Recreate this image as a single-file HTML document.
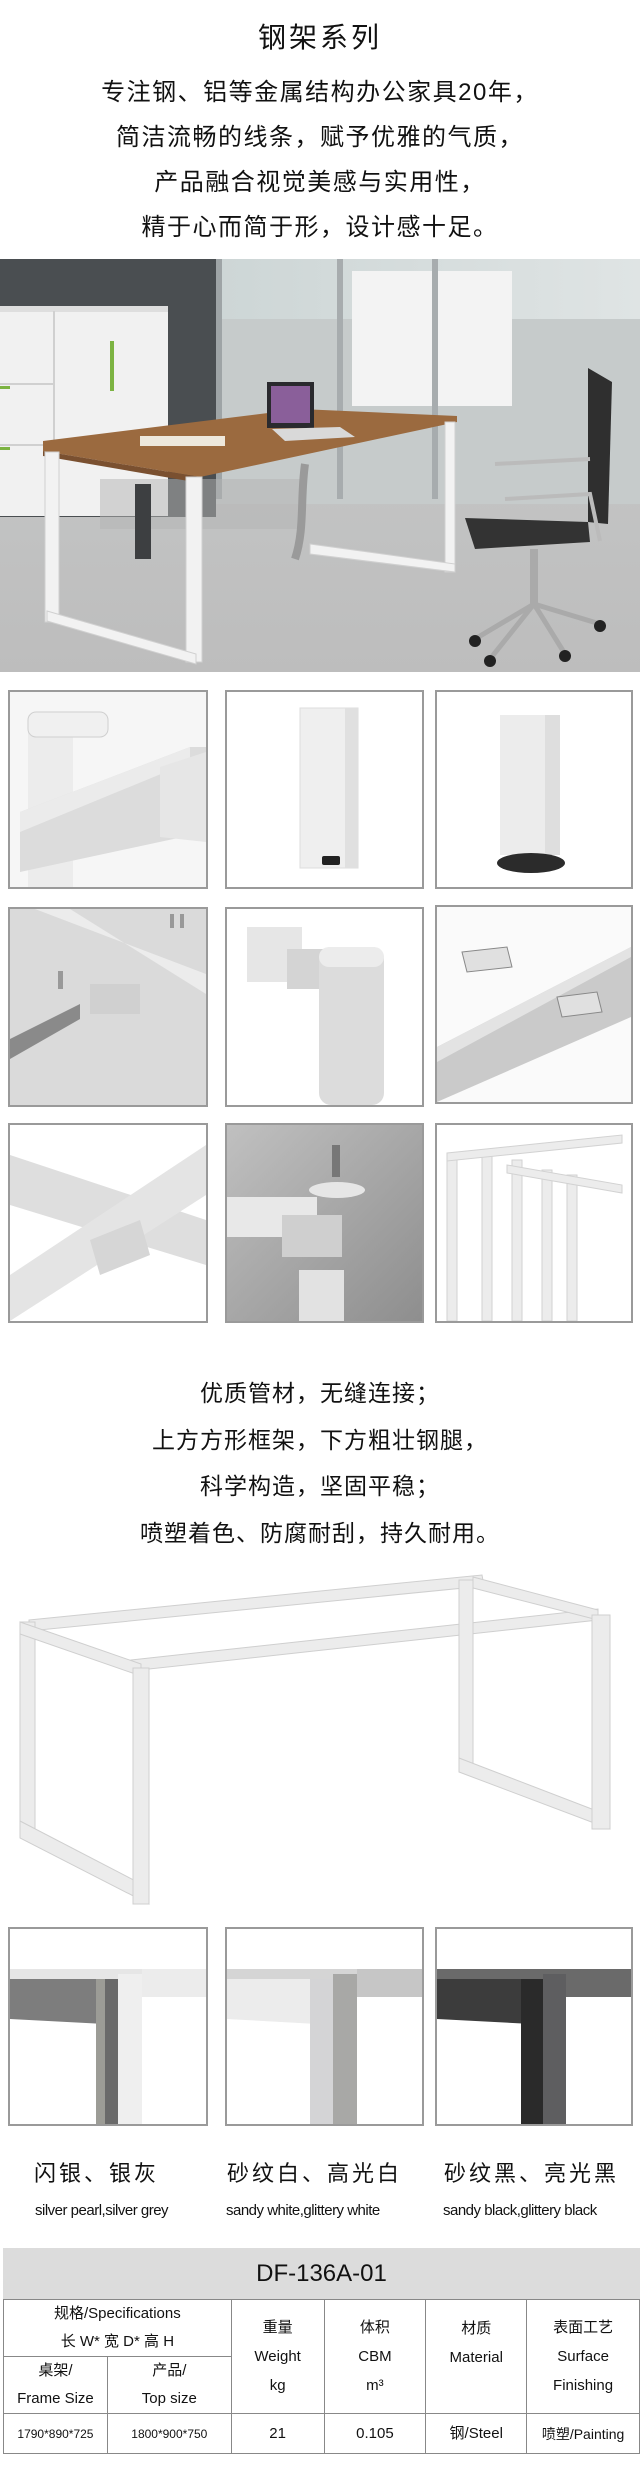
<!DOCTYPE html>
<html><head><meta charset="utf-8">
<style>
*{margin:0;padding:0;box-sizing:border-box}
body{width:640px;height:2468px;background:#fff;position:relative;overflow:hidden;font-family:"Liberation Sans","Noto Sans CJK SC",sans-serif;color:#111}
.t{position:absolute;left:0;width:640px;text-align:center;white-space:nowrap}
.box{position:absolute;border:2px solid #9a9a9a;overflow:hidden;background:#fff}
.box svg{display:block}
table{border-collapse:collapse}
</style></head><body>

<div class="t" style="top:16px;font-size:28px;letter-spacing:3px">钢架系列</div>
<div class="t" style="top:70px;font-size:24px;letter-spacing:1.5px;line-height:45px">专注钢、铝等金属结构办公家具20年，<br>简洁流畅的线条，赋予优雅的气质，<br>产品融合视觉美感与实用性，<br>精于心而简于形，设计感十足。</div>

<!-- photo -->
<svg style="position:absolute;left:0;top:259px" width="640" height="413" viewBox="0 0 640 413">
<defs><linearGradient id="fl" x1="0" y1="0" x2="0" y2="1"><stop offset="0" stop-color="#c9cbcb"/><stop offset="1" stop-color="#bdbdbd"/></linearGradient>
<linearGradient id="gl" x1="0" y1="0" x2="1" y2="0"><stop offset="0" stop-color="#cdd6d6"/><stop offset="1" stop-color="#dfe4e4"/></linearGradient></defs>
<rect width="640" height="413" fill="url(#fl)"/>
<rect x="0" y="0" width="216" height="258" fill="#4a4e51"/>
<rect x="216" y="0" width="424" height="240" fill="url(#gl)"/>
<rect x="216" y="60" width="424" height="185" fill="#c6cbcb"/>
<rect x="352" y="12" width="160" height="135" fill="#f3f3f3"/>
<rect x="337" y="0" width="6" height="240" fill="#a7acae"/>
<rect x="432" y="0" width="6" height="240" fill="#a7acae"/>
<rect x="216" y="0" width="6" height="240" fill="#9ea4a6"/>
<rect x="0" y="52" width="168" height="205" fill="#f1f1f1"/>
<rect x="0" y="47" width="168" height="6" fill="#dedede"/>
<rect x="53" y="52" width="2" height="205" fill="#d0d0d0"/>
<rect x="0" y="124" width="53" height="2" fill="#d0d0d0"/>
<rect x="0" y="185" width="53" height="2" fill="#d0d0d0"/>
<rect x="110" y="82" width="4" height="50" fill="#7cb342"/>
<rect x="0" y="127" width="10" height="3" fill="#7cb342"/>
<rect x="0" y="188" width="10" height="3" fill="#7cb342"/>
<rect x="100" y="220" width="200" height="50" fill="#b4b4b4" opacity=".5"/>
<rect x="135" y="225" width="16" height="75" fill="#3d3f41"/>
<polygon points="43,182 300,150 457,157 457,163 200,218 43,192" fill="#9b6a3f"/>
<polygon points="43,192 200,218 200,224 43,197" fill="#7a5030"/>
<rect x="140" y="177" width="85" height="10" fill="#eee8dc"/>
<rect x="267" y="123" width="47" height="46" fill="#2a2a2e"/>
<rect x="271" y="127" width="39" height="37" fill="#8a5f9a"/>
<polygon points="272,170 340,168 355,178 285,182" fill="#d9d9d9"/>
<g fill="#f2f2f2" stroke="#d0d0d0" stroke-width="1">
<rect x="45" y="193" width="14" height="170"/>
<rect x="186" y="218" width="16" height="185"/>
<polygon points="47,352 196,395 196,405 47,362"/>
<rect x="445" y="163" width="10" height="150"/>
<polygon points="310,285 455,305 455,313 310,295"/>
</g>
<path d="M305 205 C300 240 305 270 295 300" stroke="#9a9a9a" stroke-width="8" fill="none"/>
<polygon points="588,109 612,123 608,265 588,263" fill="#2f2f2f"/>
<polygon points="465,259 588,263 590,283 475,290" fill="#333"/>
<path d="M495 205 L590 200 M505 240 L590 235 L600 282" stroke="#bbb" stroke-width="4" fill="none"/>
<rect x="530" y="290" width="8" height="55" fill="#aaa"/>
<path d="M534 345 L475 380 M534 345 L600 365 M534 345 L565 395 M534 345 L490 400" stroke="#aaa" stroke-width="5"/>
<g fill="#222"><circle cx="475" cy="382" r="6"/><circle cx="600" cy="367" r="6"/><circle cx="565" cy="397" r="6"/><circle cx="490" cy="402" r="6"/></g>
</svg>

<!-- grid row 1 -->
<div class="box" style="left:8px;top:690px;width:200px;height:199px"><svg width="196" height="195" viewBox="0 0 196 195"><rect width="196" height="195" fill="#f6f6f6"/><rect x="18" y="30" width="45" height="165" fill="#ececec"/><polygon points="10,120 180,55 196,55 196,140 10,180" fill="#dcdcdc"/><polygon points="10,120 180,55 180,70 10,140" fill="#ebebeb"/><polygon points="150,75 196,60 196,150 150,145" fill="#e6e6e6"/><rect x="18" y="20" width="80" height="25" rx="8" fill="#f0f0f0" stroke="#cfcfcf"/></svg></div>
<div class="box" style="left:225px;top:690px;width:199px;height:199px"><svg width="195" height="195"><rect x="73" y="16" width="58" height="160" fill="#efefef" stroke="#ddd"/><rect x="118" y="16" width="13" height="160" fill="#e0e0e0"/><rect x="95" y="164" width="18" height="9" rx="2" fill="#222"/></svg></div>
<div class="box" style="left:435px;top:690px;width:198px;height:199px"><svg width="194" height="195"><rect x="63" y="23" width="60" height="140" fill="#ececec"/><rect x="108" y="23" width="15" height="140" fill="#dedede"/><ellipse cx="94" cy="171" rx="34" ry="10" fill="#2b2b2b"/></svg></div>
<!-- row 2 -->
<div class="box" style="left:8px;top:907px;width:200px;height:200px"><svg width="196" height="196"><rect width="196" height="196" fill="#dadada"/><polygon points="25,0 196,65 196,85 60,0" fill="#ececec"/><polygon points="0,130 70,95 70,110 0,150" fill="#8a8a8a"/><rect x="80" y="75" width="50" height="30" fill="#d0d0d0"/><rect x="48" y="62" width="5" height="18" fill="#999"/><rect x="160" y="5" width="4" height="14" fill="#999"/><rect x="170" y="5" width="4" height="14" fill="#999"/></svg></div>
<div class="box" style="left:225px;top:907px;width:199px;height:200px"><svg width="195" height="196"><rect x="20" y="18" width="55" height="55" fill="#e6e6e6"/><polygon points="60,40 115,40 115,80 60,80" fill="#d4d4d4"/><rect x="92" y="38" width="65" height="158" rx="12" fill="#dcdcdc"/><rect x="92" y="38" width="65" height="20" rx="10" fill="#ececec"/></svg></div>
<div class="box" style="left:435px;top:905px;width:198px;height:199px"><svg width="194" height="195"><rect width="194" height="195" fill="#fafafa"/><polygon points="0,140 194,40 194,110 0,195" fill="#cacaca"/><polygon points="0,140 194,40 194,50 0,155" fill="#e3e3e3"/><polygon points="25,45 70,40 75,60 30,65" fill="#e0e0e0" stroke="#888"/><polygon points="120,90 160,85 165,105 125,110" fill="#e0e0e0" stroke="#888"/></svg></div>
<!-- row 3 -->
<div class="box" style="left:8px;top:1123px;width:200px;height:200px"><svg width="196" height="196"><rect width="196" height="196" fill="#fff"/><polygon points="0,30 196,95 196,140 0,80" fill="#dedede"/><polygon points="0,150 196,20 196,70 0,196" fill="#e4e4e4"/><polygon points="80,115 130,95 140,130 90,150" fill="#d6d6d6"/></svg></div>
<div class="box" style="left:225px;top:1123px;width:199px;height:200px"><svg width="195" height="196"><defs><linearGradient id="g8" x1="0" y1="0" x2="1" y2="1"><stop offset="0" stop-color="#c0c0c0"/><stop offset="1" stop-color="#8e8e8e"/></linearGradient></defs><rect width="195" height="196" fill="url(#g8)"/><rect x="0" y="72" width="90" height="40" fill="#e8e8e8"/><rect x="55" y="90" width="60" height="42" fill="#cfcfcf"/><ellipse cx="110" cy="65" rx="28" ry="8" fill="#e6e6e6"/><rect x="105" y="20" width="8" height="32" fill="#777"/><rect x="72" y="145" width="45" height="51" fill="#e2e2e2"/></svg></div>
<div class="box" style="left:435px;top:1123px;width:198px;height:200px"><svg width="194" height="196"><g fill="#ececec" stroke="#d2d2d2"><rect x="10" y="30" width="10" height="166"/><rect x="45" y="25" width="10" height="171"/><rect x="75" y="35" width="10" height="161"/><rect x="105" y="45" width="10" height="151"/><rect x="130" y="50" width="10" height="146"/><polygon points="10,28 185,10 185,18 10,36"/><polygon points="70,40 185,60 185,68 70,48"/></g></svg></div>

<div class="t" style="top:1370px;font-size:23px;letter-spacing:1px;line-height:46.5px">优质管材，无缝连接；<br>上方方形框架，下方粗壮钢腿，<br>科学构造，坚固平稳；<br>喷塑着色、防腐耐刮，持久耐用。</div>

<!-- frame -->
<svg style="position:absolute;left:0;top:1560px" width="640" height="365" viewBox="0 1560 640 365">
<g fill="#ececec" stroke="#cfcfcf" stroke-width="1">
<polygon points="29,1620 482,1575 484,1586 29,1631"/>
<polygon points="131,1660 598,1609 598,1620 131,1671"/>
<rect x="459" y="1580" width="14" height="190"/>
<polygon points="459,1758 610,1816 610,1829 459,1772"/>
<polygon points="473,1577 598,1610 598,1620 473,1588"/>
<rect x="20" y="1622" width="15" height="215"/>
<polygon points="20,1622 141,1664 141,1676 20,1634"/>
<polygon points="20,1821 149,1888 149,1904 20,1838"/>
<rect x="133" y="1668" width="16" height="236"/>
<rect x="592" y="1615" width="18" height="214"/>
</g></svg>

<!-- swatches -->
<div class="box" style="left:8px;top:1927px;width:200px;height:199px"><svg width="196" height="195"><rect x="0" y="40" width="196" height="10" fill="#e6e6e6"/><polygon points="0,50 105,50 95,95 0,90" fill="#7d7d7d"/><rect x="86" y="50" width="22" height="145" fill="#9c9c96"/><rect x="95" y="50" width="13" height="145" fill="#6a6a6a"/><rect x="108" y="45" width="24" height="150" fill="#efefef"/><rect x="132" y="40" width="64" height="28" fill="#ececec"/></svg></div>
<div class="box" style="left:225px;top:1927px;width:199px;height:199px"><svg width="195" height="195"><rect x="0" y="40" width="195" height="10" fill="#d5d5d5"/><polygon points="0,50 100,50 90,95 0,90" fill="#ececec"/><rect x="83" y="50" width="23" height="145" fill="#d4d4d6"/><rect x="106" y="45" width="24" height="150" fill="#a8a8a6"/><rect x="130" y="40" width="65" height="28" fill="#c6c6c6"/></svg></div>
<div class="box" style="left:435px;top:1927px;width:198px;height:199px"><svg width="194" height="195"><rect x="0" y="40" width="194" height="10" fill="#6a6a6a"/><polygon points="0,50 105,50 95,95 0,90" fill="#3c3c3c"/><rect x="84" y="50" width="22" height="145" fill="#2a2a2a"/><rect x="106" y="45" width="23" height="150" fill="#5e5e60"/><rect x="129" y="40" width="65" height="28" fill="#6a6a6a"/></svg></div>

<div style="position:absolute;top:2156px;left:0;width:640px;font-size:22px;letter-spacing:3px;white-space:nowrap">
<span style="position:absolute;left:34px">闪银、银灰</span>
<span style="position:absolute;left:227px">砂纹白、高光白</span>
<span style="position:absolute;left:444px">砂纹黑、亮光黑</span>
</div>
<div style="position:absolute;top:2202px;left:0;width:640px;font-size:15px;letter-spacing:-0.5px;white-space:nowrap">
<span style="position:absolute;left:35px">silver pearl,silver grey</span>
<span style="position:absolute;left:226px">sandy white,glittery white</span>
<span style="position:absolute;left:443px">sandy black,glittery black</span>
</div>

<div style="position:absolute;left:3px;top:2248px;width:637px;height:51px;background:#dcdcdc;text-align:center;font-size:24px;line-height:51px">DF-136A-01</div>
<table style="position:absolute;left:3px;top:2299px;width:637px;font-size:15px;text-align:center;line-height:18px">
<colgroup><col style="width:104px"><col style="width:124px"><col style="width:93px"><col style="width:102px"><col style="width:101px"><col style="width:113px"></colgroup>
<tr style="height:57px"><td colspan="2" style="border:1.5px solid #888;line-height:28px">规格/Specifications<br>长 W* 宽 D* 高 H</td>
<td rowspan="2" style="border:1.5px solid #888;line-height:29px">重量<br>Weight<br>kg</td>
<td rowspan="2" style="border:1.5px solid #888;line-height:29px">体积<br>CBM<br>m³</td>
<td rowspan="2" style="border:1.5px solid #888;line-height:29px;vertical-align:top;padding-top:14px">材质<br>Material</td>
<td rowspan="2" style="border:1.5px solid #888;line-height:29px">表面工艺<br>Surface<br>Finishing</td></tr>
<tr style="height:47px"><td style="border:1.5px solid #888;line-height:28px">桌架/<br>Frame Size</td><td style="border:1.5px solid #888;line-height:28px">产品/<br>Top size</td></tr>
<tr style="height:40px"><td style="border:1.5px solid #888;font-size:12px">1790*890*725</td><td style="border:1.5px solid #888;font-size:12px">1800*900*750</td><td style="border:1.5px solid #888">21</td><td style="border:1.5px solid #888">0.105</td><td style="border:1.5px solid #888">钢/Steel</td><td style="border:1.5px solid #888;font-size:14px">喷塑/Painting</td></tr>
</table>
</body></html>
